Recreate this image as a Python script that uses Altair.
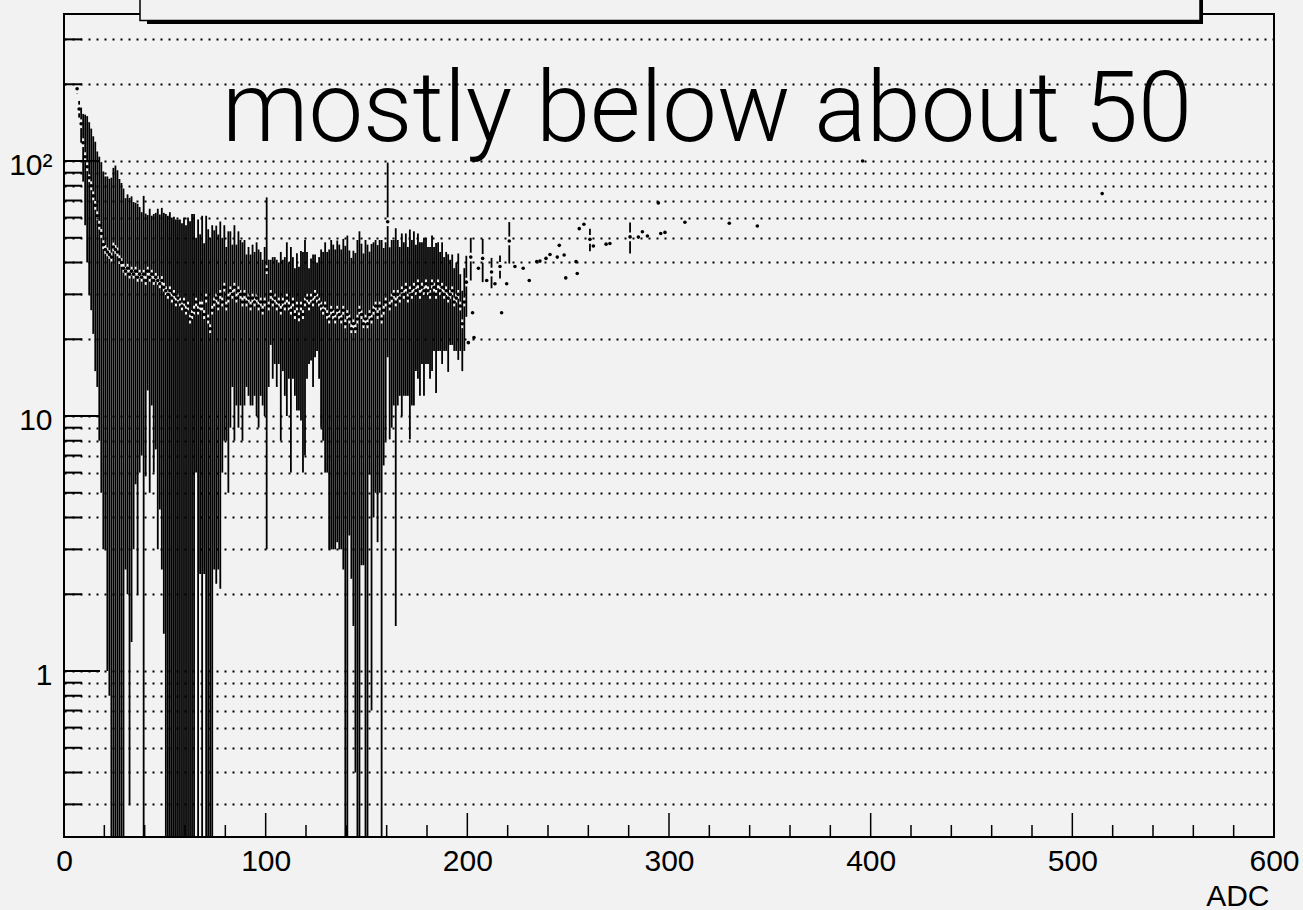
import altair as alt
import pandas as pd

# ---------------- data ----------------
DENSE_FIRST_BIN = 6  # first filled 1-ADC bin
dense_v = [
    192, 160, 140, 118, 104, 95, 86, 80, 73, 67,
    61, 56, 52, 47, 45, 44, 43, 42, 46, 45,
    44, 41, 40, 38, 37, 38, 36, 37, 36, 37,
    35, 36, 35, 36, 34, 37, 35, 36, 34, 35,
    34, 33, 34, 32, 31, 30, 31, 29, 30, 28,
    29, 28, 27, 28, 26, 27, 24, 25, 26, 28,
    26, 27, 27, 25, 29, 24, 22, 26, 28, 29,
    27, 30, 28, 32, 27, 29, 31, 30, 32, 29,
    31, 30, 28, 30, 28, 29, 27, 29, 28, 29,
    27, 28, 26, 28, 37.5, 27, 30, 28, 29, 27,
    28, 26, 28, 27, 29, 27, 26, 28, 25, 27,
    24.5, 27, 25, 28, 29, 27, 29, 28, 30, 29,
    28, 27, 26, 27, 25, 24, 26, 25, 24, 26,
    25, 24, 26, 23, 25, 24, 22, 23, 22, 24,
    26, 25, 23, 24, 23, 25, 24, 26, 27, 25,
    27, 24, 26, 28, 57.8, 27, 29, 30, 28, 30,
    29, 31, 30, 32, 29, 31, 30, 32, 31, 33,
    30, 32, 31, 33, 31, 30, 33, 32, 30, 33,
    31, 32, 30, 31, 29, 30, 31, 28, 29, 30,
    27, 23, 28, 33.5,
]
dense_e = [
    8, 12, 22, 35, 48, 55, 56, 54, 52, 52,
    48, 48, 47, 44, 42, 43, 42.2, 44, 48, 51,
    48, 44, 42, 40, 34.5, 36, 35.7, 35.7, 33, 31.6,
    33, 30, 28, 37, 28.2, 24.4, 30, 25, 28, 27.6,
    31, 28.7, 31.5, 30.6, 31, 31, 32, 31, 30.5, 31,
    30, 31, 30, 32, 30, 33, 34, 37, 36, 22,
    33, 24.6, 34, 22.6, 32, 30, 28, 30, 25.5, 26.8,
    24.5, 27.9, 22, 24, 19, 24, 22, 17, 24, 18,
    22, 19, 20, 19, 15, 17, 16, 18, 16, 19,
    18, 16, 15, 18, 34.5, 14, 11, 14, 13, 14,
    12, 18, 13, 15, 19, 13, 20, 14, 13, 16.5,
    14, 17.4, 19, 21, 15, 11, 12.5, 15, 13, 11,
    14, 18, 18, 21, 19, 21, 23, 22, 21, 22.8,
    22, 21, 23.5, 23.5, 26, 20.6, 19.7, 21.5, 21.6, 25,
    27, 22.4, 20.4, 25, 24, 19.1, 23.3, 22, 22, 21.8,
    22, 25, 19.6, 20, 40.8, 18.9, 20, 19, 26.5, 19,
    17, 21, 18, 20, 17, 22.9, 19, 21, 16, 19,
    18, 16, 19, 17, 15, 16, 18, 14, 17.7, 15,
    13, 16, 12, 13, 14.1, 11, 12, 10, 11, 13.4,
    9, 8, 10, 9,
]

sparse_x = [200.5, 201.7, 202.6, 203.3, 205.5, 207.6, 209.6, 212.0, 213.7, 216.2,
            217.0, 219.5, 220.8, 223.6, 227.7, 230.7, 234.4, 236.0, 239.0, 241.0,
            244.6, 245.6, 248.0, 248.8, 253.9, 254.5, 255.5, 257.8, 260.8, 262.5,
            268.8, 270.7, 280.7, 284.8, 286.8, 289.3, 294.7, 295.9, 298.0, 307.9,
            329.9, 343.8, 396.0, 514.8]
sparse_v = [19.4, 42, 25.4, 20.3, 38, 41.5, 34, 36.7, 33, 38.6,
            25.4, 33, 48.6, 38.6, 38, 34, 40.3, 40.5, 41.5, 43,
            42, 46.7, 42.8, 34.8, 40.3, 36.2, 54.3, 56.5, 49.3, 46.4,
            47.2, 47.5, 50.4, 50.3, 52.8, 50.8, 68.5, 52, 52.5, 57.5,
            57, 55.6, 100, 74.5]
sparse_e = [0, 8, 0, 0, 0, 8, 0, 5, 0, 4,
            0, 0, 9, 0, 0, 0, 0, 0, 0, 0,
            0, 0, 0, 0, 0, 0, 0, 0, 5, 0,
            0, 0, 7, 0, 0, 0, 0, 0, 0, 0,
            0, 0, 0, 0]

x_major_ticks = [0, 100, 200, 300, 400, 500, 600]
x_minor_ticks = [20, 40, 60, 80, 120, 140, 160, 180, 220, 240, 260, 280,
                 320, 340, 360, 380, 420, 440, 460, 480, 520, 540, 560, 580]
y_major_ticks = [1, 10, 100]
y_minor_ticks = [0.3, 0.4, 0.5, 0.6, 0.7, 0.8, 0.9,
                 2, 3, 4, 5, 6, 7, 8, 9,
                 20, 30, 40, 50, 60, 70, 80, 90,
                 200, 300]
y_domain = [0.2234, 377.2]
x_domain = [0, 600]
annotation = "mostly below about 50"
x_title = "ADC"

# ---------------- table ----------------
dense_x = [DENSE_FIRST_BIN + i + 0.5 for i in range(len(dense_v))]
df = pd.DataFrame({
    "x": dense_x + sparse_x,
    "v": dense_v + sparse_v,
    "e": dense_e + sparse_e,
})
GAP = 1.04  # marker gap around the point (log scale => constant pixels)
df["lo"] = (df["v"] - df["e"]).clip(lower=0.05)
df["hi"] = df["v"] + df["e"]
df["glo"] = df["v"] / GAP
df["ghi"] = df["v"] * GAP
low_seg = df[df["lo"] < df["glo"]]
up_seg = df[df["hi"] > df["ghi"]]

W, H = 1210, 823
FONT = "Liberation Sans"
BG = "#f2f2f2"

xsc = alt.Scale(domain=x_domain, nice=False, zero=False)
ysc = alt.Scale(type="log", domain=y_domain, nice=False)

grid_vals = sorted(y_major_ticks + y_minor_ticks)

y_axis = alt.Axis(
    values=grid_vals, grid=True, gridDash=[2, 6], gridColor="black", gridWidth=2,
    gridOpacity=1, ticks=False, domain=False,
    labelExpr="datum.value == 100 ? '10²' : datum.value == 10 ? '10' : datum.value == 1 ? '1' : ''",
    labelFont=FONT, labelFontSize=30, labelColor="black", labelPadding=12,
    labelOffset=4, labelOverlap=False, labelBound=False, title=None,
)
x_axis = alt.Axis(
    values=x_major_ticks, grid=False, ticks=False, domain=False, format="d",
    labelFont=FONT, labelFontSize=30, labelColor="black", labelPadding=9,
    labelFlush=False, labelOverlap=False,
    title=x_title, titleFont=FONT, titleFontSize=30, titleFontWeight="normal",
    titleColor="black", titleAnchor="end", titleAlign="right",
    titleBaseline="alphabetic", titleX=1205, titleY=68,
)

def X(field):
    return alt.X(field, type="quantitative", scale=xsc, axis=x_axis)

def Y(field):
    return alt.Y(field, type="quantitative", scale=ysc, axis=y_axis)

BAR_W = 1.8
lower = alt.Chart(low_seg).mark_rule(color="black", strokeWidth=BAR_W, clip=True).encode(
    x=X("x"), y=Y("lo"), y2="glo:Q")
upper = alt.Chart(up_seg).mark_rule(color="black", strokeWidth=BAR_W, clip=True).encode(
    x=X("x"), y=Y("ghi"), y2="hi:Q")
points = alt.Chart(df).mark_circle(size=13, color="black", opacity=1, clip=True).encode(
    x=X("x"), y=Y("v"))

yt_major = alt.Chart(pd.DataFrame({"t": y_major_ticks})).mark_rule(color="black", strokeWidth=2).encode(
    y=Y("t"), x=alt.value(0), x2=alt.value(36))
yt_minor = alt.Chart(pd.DataFrame({"t": y_minor_ticks})).mark_rule(color="black", strokeWidth=2).encode(
    y=Y("t"), x=alt.value(0), x2=alt.value(18))
xt_major = alt.Chart(pd.DataFrame({"t": x_major_ticks})).mark_rule(color="black", strokeWidth=1.5).encode(
    x=X("t"), y=alt.value(H), y2=alt.value(H - 24))
xt_minor = alt.Chart(pd.DataFrame({"t": x_minor_ticks})).mark_rule(color="black", strokeWidth=1.5).encode(
    x=X("t"), y=alt.value(H), y2=alt.value(H - 12))

one = pd.DataFrame({"k": [0]})
shadow = alt.Chart(one).mark_rect(color="black").encode(
    x=alt.value(83), x2=alt.value(1139), y=alt.value(-40), y2=alt.value(10))
box = alt.Chart(one).mark_rect(fill=BG, stroke="black", strokeWidth=1.5).encode(
    x=alt.value(76), x2=alt.value(1136), y=alt.value(-40), y2=alt.value(6.5))
label = alt.Chart(one).mark_text(
    font="Roboto", fontWeight=300, fontSize=97.5, color="black",
    align="left", baseline="alphabetic",
).encode(x=alt.value(158), y=alt.value(127), text=alt.value(annotation))

chart = alt.layer(
    lower, upper, points, yt_major, yt_minor, xt_major, xt_minor, shadow, box, label
).properties(
    width=W, height=H,
    autosize=alt.AutoSizeParams(type="none"),
    padding={"left": 64, "top": 14, "right": 29, "bottom": 73},
    background=BG,
).configure_view(stroke="black", strokeWidth=2)

chart.save("out.html", embed_options={"renderer": "svg", "actions": False})
